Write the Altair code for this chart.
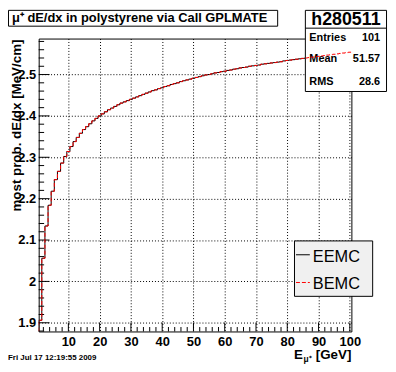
import altair as alt
import pandas as pd

# ---------------- data ----------------
energy_gev = list(range(1, 101))
dedx_eemc = [1.906, 2.056, 2.134, 2.184, 2.218, 2.246, 2.266, 2.286, 2.302, 2.314,
             2.326, 2.338, 2.348, 2.358, 2.367, 2.374, 2.381, 2.388, 2.394, 2.400,
             2.405, 2.410, 2.415, 2.419, 2.423, 2.427, 2.431, 2.434, 2.437, 2.440,
             2.443, 2.446, 2.449, 2.452, 2.455, 2.458, 2.461, 2.463, 2.466, 2.468,
             2.471, 2.473, 2.476, 2.478, 2.480, 2.483, 2.485, 2.487, 2.489, 2.491,
             2.493, 2.495, 2.497, 2.499, 2.500, 2.502, 2.504, 2.505, 2.507, 2.508,
             2.510, 2.511, 2.513, 2.514, 2.516, 2.517, 2.518, 2.520, 2.521, 2.522,
             2.523, 2.525, 2.526, 2.527, 2.528, 2.529, 2.530, 2.531, 2.533, 2.534,
             2.535, 2.536, 2.537, 2.538, 2.539, 2.540, 2.541, 2.542, 2.543, 2.544,
             2.545, 2.546, 2.547, 2.548, 2.549, 2.550, 2.551, 2.552, 2.553, 2.554]
dedx_bemc = list(dedx_eemc)  # BEMC curve coincides with EEMC

x_range = [0.5, 100.5]
y_range = [1.879, 2.587]
x_major = [10, 20, 30, 40, 50, 60, 70, 80, 90, 100]
x_minor = [2, 4, 6, 8, 12, 14, 16, 18, 22, 24, 26, 28, 32, 34, 36, 38, 42, 44, 46, 48,
           52, 54, 56, 58, 62, 64, 66, 68, 72, 74, 76, 78, 82, 84, 86, 88, 92, 94, 96, 98]
y_major = [1.9, 2.0, 2.1, 2.2, 2.3, 2.4, 2.5]
y_minor = [1.88, 1.92, 1.94, 1.96, 1.98, 2.02, 2.04, 2.06, 2.08, 2.12, 2.14, 2.16, 2.18,
           2.22, 2.24, 2.26, 2.28, 2.32, 2.34, 2.36, 2.38, 2.42, 2.44, 2.46, 2.48,
           2.52, 2.54, 2.56, 2.58]

hist_title = "\u03bc\u207a dE/dx in polystyrene via Call GPLMATE"
hist_name = "h280511"
stat_labels = ["Entries", "Mean", "RMS"]
stat_values = ["101", "51.57", "28.6"]
legend_labels = ["EEMC", "BEMC"]
y_title = "most prob. dE/dx [MeV/cm]"
date_text = "Fri Jul 17 12:19:55 2009"

# ---------------- build tables ----------------
def step_table(vals):
    edges = [x_range[0]] + [e - 0.5 for e in energy_gev] + [x_range[1]]
    yv = [y_range[0]] + list(vals) + [vals[-1]]
    return pd.DataFrame({"i": list(range(len(edges))), "edge": edges, "val": yv})

df_eemc = step_table(dedx_eemc)
df_bemc = step_table(dedx_bemc)
dummy = pd.DataFrame({"k": [0]})

FONT = "Liberation Sans"
W, H = 316, 296
xs = alt.Scale(domain=x_range, nice=False, zero=False)
ys = alt.Scale(domain=y_range, nice=False, zero=False)

x_axis = alt.Axis(values=x_major, grid=True, gridDash=[1, 2], gridColor="black",
                  gridOpacity=1, gridWidth=1, ticks=False, domain=False,
                  labelFont=FONT, labelFontWeight="bold", labelFontSize=13,
                  labelColor="black", labelPadding=4, labelOverlap=False,
                  labelFlush=False, title=None)
y_axis = alt.Axis(values=y_major, grid=True, gridDash=[1, 2], gridColor="black",
                  gridOpacity=1, gridWidth=1, ticks=False, domain=False,
                  labelFont=FONT, labelFontWeight="bold", labelFontSize=13,
                  labelColor="black", labelPadding=3, labelOverlap=False,
                  labelFlush=False, format=".1~f", title=None)

black_line = alt.Chart(df_eemc).mark_line(
    interpolate="step-after", color="black", strokeWidth=1, clip=True
).encode(
    x=alt.X("edge:Q", scale=xs, axis=x_axis),
    y=alt.Y("val:Q", scale=ys, axis=y_axis),
    order="i:Q",
)

red_line = alt.Chart(df_bemc).mark_line(
    interpolate="step-after", color="#ff0000", strokeWidth=1, strokeDash=[4, 2], clip=True
).encode(
    x=alt.X("edge:Q", scale=xs, axis=x_axis),
    y=alt.Y("val:Q", scale=ys, axis=y_axis),
    order="i:Q",
)

def yticks(vals, length):
    return alt.Chart(pd.DataFrame({"v": vals})).mark_rule(color="black", strokeWidth=1).encode(
        y=alt.Y("v:Q", scale=ys, axis=y_axis), x=alt.value(0), x2=alt.value(length))

def xticks(vals, length):
    return alt.Chart(pd.DataFrame({"v": vals})).mark_rule(color="black", strokeWidth=1).encode(
        x=alt.X("v:Q", scale=xs, axis=x_axis), y=alt.value(H), y2=alt.value(H - length))

def box(x1, x2, y1, y2, fill):
    return alt.Chart(dummy).mark_rect(fill=fill, stroke="black", strokeWidth=1).encode(
        x=alt.value(x1), x2=alt.value(x2), y=alt.value(y1), y2=alt.value(y2))

def hline(x1, x2, y, color="black", dash=None):
    kw = {"color": color, "strokeWidth": 1}
    if dash:
        kw["strokeDash"] = dash
    return alt.Chart(dummy).mark_rule(**kw).encode(
        x=alt.value(x1), x2=alt.value(x2), y=alt.value(y))

def label(text, x, y, size, weight="bold", align="left", angle=0):
    return alt.Chart(dummy).mark_text(
        text=text, font=FONT, fontSize=size, fontWeight=weight, align=align,
        baseline="alphabetic", angle=angle, color="black"
    ).encode(x=alt.value(x), y=alt.value(y))

frame = box(0.5, W + 0.5, 0.5, H + 0.5, "transparent")

stats = [
    box(269.5, 351.5, -28.5, 53.5, "white"),
    hline(269.5, 351.5, -10.5),
    label(hist_name, 310.5, -13.5, 18, align="center"),
]
for i, (lab, val) in enumerate(zip(stat_labels, stat_values)):
    yy = [2, 24, 46.5][i]
    stats.append(label(lab, 273.5, yy, 11))
    stats.append(label(val, 345, yy, 11, align="right"))

legend = [
    box(258.5, 337.5, 204.5, 260.5, "#f0f0f0"),
    hline(260, 274, 218.5),
    label(legend_labels[0], 277, 225.5, 16.5, weight="normal"),
    hline(260, 274, 246.5, color="#ff0000", dash=[4, 2]),
    label(legend_labels[1], 277, 253.5, 16.5, weight="normal"),
]

title_box = [
    box(-30.5, 241.5, -28.5, -12.5, "white"),
    label(hist_title, -27, -16.5, 13),
]

axis_titles = [
    label(y_title, -18, 1, 13.5, align="right", angle=270),
    label("E", 258, 324, 13.5),
    label("\u03bc\u207a", 267.5, 327, 8.5),
    label("[GeV]", 316, 324, 13.5, align="right"),
    label(date_text, -31, 325, 8),
]

chart = alt.layer(
    black_line,
    yticks(y_major, 11), yticks(y_minor, 5.5),
    xticks(x_major, 9), xticks(x_minor, 4.5),
    frame,
    *stats,
    red_line,
    *legend,
    *title_box,
    *axis_titles,
).properties(
    width=W, height=H,
    padding={"left": 31, "top": 29, "right": 37, "bottom": 31},
    autosize=alt.AutoSizeParams(type="none"),
    background="white",
).configure_view(stroke="transparent")

chart.save("out.html", embed_options={"renderer": "svg", "actions": False})
